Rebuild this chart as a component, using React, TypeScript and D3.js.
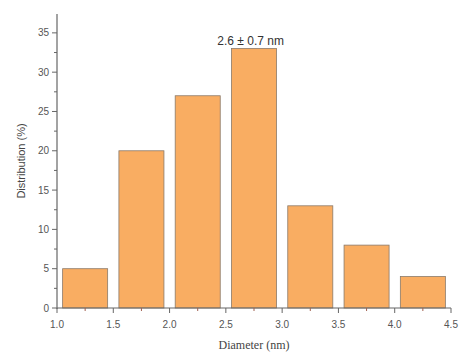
import { useEffect, useRef } from 'react';
import * as d3 from 'd3';

// histogram bins (nm) and share (%)
const binStarts = [1.0, 1.5, 2.0, 2.5, 3.0, 3.5, 4.0];
const binValues = [5, 20, 27, 33, 13, 8, 4];
const xTicks = [1.0, 1.5, 2.0, 2.5, 3.0, 3.5, 4.0, 4.5];
const yTicks = [0, 5, 10, 15, 20, 25, 30, 35];
const annotation = '2.6 ± 0.7 nm';

const W = 462;
const H = 354;

export default function App() {
  const svgRef = useRef<SVGSVGElement>(null);

  useEffect(() => {
    if (!svgRef.current) return;
    const svg = d3.select(svgRef.current);
    svg.selectAll('*').remove();

    const x = d3.scaleLinear().domain([1.0, 4.5]).range([57, 451]);
    const y = d3.scaleLinear().domain([0, 37.4]).range([308, 14]);
    const textColor = '#555';

    // bars
    svg.append('g')
      .selectAll('rect')
      .data(binStarts)
      .enter()
      .append('rect')
      .attr('x', d => x(d + 0.05))
      .attr('width', d => x(d + 0.45) - x(d + 0.05))
      .attr('y', (d, i) => y(binValues[i]))
      .attr('height', (d, i) => y(0) - y(binValues[i]))
      .attr('fill', '#f9ad62')
      .attr('stroke', '#8a7a6a')
      .attr('stroke-width', 0.8);

    // axes
    const axisColor = '#666';
    svg.append('line')
      .attr('x1', x(1.0)).attr('x2', x(1.0))
      .attr('y1', y(0) + 1).attr('y2', 14)
      .attr('stroke', axisColor).attr('stroke-width', 1.2);
    svg.append('line')
      .attr('x1', x(1.0)).attr('x2', x(4.5))
      .attr('y1', y(0)).attr('y2', y(0))
      .attr('stroke', axisColor).attr('stroke-width', 1.2);

    // y ticks
    const yMinor = d3.range(2.5, 37.5, 5);
    svg.append('g').selectAll('line.ym')
      .data(yTicks).enter().append('line')
      .attr('x1', x(1.0) - 5).attr('x2', x(1.0))
      .attr('y1', d => y(d)).attr('y2', d => y(d))
      .attr('stroke', axisColor);
    svg.append('g').selectAll('line.yn')
      .data(yMinor).enter().append('line')
      .attr('x1', x(1.0) - 3).attr('x2', x(1.0))
      .attr('y1', d => y(d)).attr('y2', d => y(d))
      .attr('stroke', axisColor);
    svg.append('g').selectAll('text')
      .data(yTicks).enter().append('text')
      .attr('x', x(1.0) - 8)
      .attr('y', d => y(d) + 3.5)
      .attr('text-anchor', 'end')
      .attr('font-family', 'Arial, Liberation Sans, sans-serif')
      .attr('font-size', 10)
      .attr('fill', textColor)
      .text(d => d);

    // x ticks
    const xMinor = d3.range(1.25, 4.5, 0.5);
    svg.append('g').selectAll('line.xm')
      .data(xTicks).enter().append('line')
      .attr('x1', d => x(d)).attr('x2', d => x(d))
      .attr('y1', y(0)).attr('y2', y(0) + 5)
      .attr('stroke', axisColor);
    svg.append('g').selectAll('line.xn')
      .data(xMinor).enter().append('line')
      .attr('x1', d => x(d)).attr('x2', d => x(d))
      .attr('y1', y(0)).attr('y2', y(0) + 3)
      .attr('stroke', '#a06050');
    svg.append('g').selectAll('text')
      .data(xTicks).enter().append('text')
      .attr('x', d => x(d))
      .attr('y', 328)
      .attr('text-anchor', 'middle')
      .attr('font-family', 'Arial, Liberation Sans, sans-serif')
      .attr('font-size', 10)
      .attr('fill', textColor)
      .text(d => d.toFixed(1));

    // axis titles
    svg.append('text')
      .attr('x', 254).attr('y', 349)
      .attr('text-anchor', 'middle')
      .attr('font-family', 'Liberation Serif, Times New Roman, serif')
      .attr('font-size', 12)
      .attr('fill', '#444')
      .text('Diameter (nm)');
    svg.append('text')
      .attr('transform', 'translate(25,161) rotate(-90)')
      .attr('text-anchor', 'middle')
      .attr('font-family', 'Arial, Liberation Sans, sans-serif')
      .attr('font-size', 11)
      .attr('fill', '#444')
      .text('Distribution (%)');

    svg.append('text')
      .attr('x', x(2.72)).attr('y', 45)
      .attr('text-anchor', 'middle')
      .attr('font-family', 'Arial, Liberation Sans, sans-serif')
      .attr('font-size', 12)
      .attr('fill', '#333')
      .text(annotation);
  }, []);

  return (
    <svg
      ref={svgRef}
      width={W}
      height={H}
      style={{ position: 'fixed', top: 0, left: 0, display: 'block', background: '#fff' }}
    />
  );
}
